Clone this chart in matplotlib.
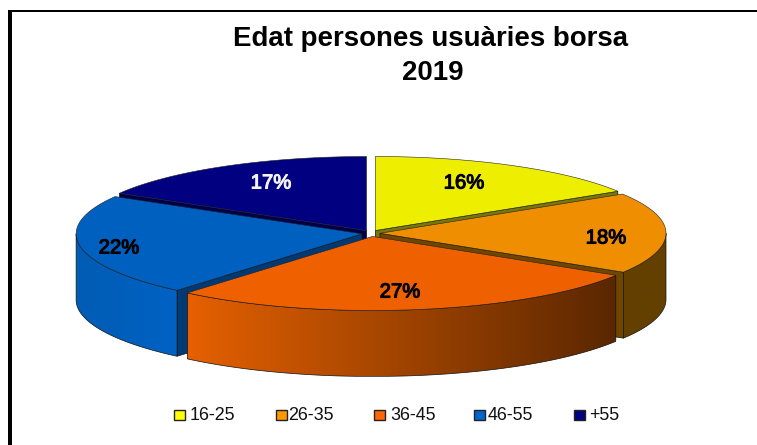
import numpy as np
import matplotlib
matplotlib.use("Agg")
import matplotlib.pyplot as plt
import matplotlib.patheffects as pe
from matplotlib.colors import LinearSegmentedColormap
from matplotlib.patches import Polygon, Rectangle

plt.rcParams['font.family'] = ['Liberation Sans', 'DejaVu Sans']

# Data
title_lines = ["Edat persones usuàries borsa", "2019"]
categories = ["16-25", "26-35", "36-45", "46-55", "+55"]
values = [16.1, 17.7, 27.4, 22.2, 16.6]

# Style
top_colors = ["#EEEE00", "#EE8E00", "#EE6000", "#0060C0", "#000080"]
legend_colors = ["#FFFF00", "#FF9900", "#FF6600", "#0066CC", "#000080"]
cut_colors = ["#77770A", "#6E4600", "#6E3000", "#003A75", "#00004A"]
side_left = ["#777700", "#634000", "#E66000", "#005CB4", "#000060"]
side_right = ["#777700", "#634000", "#5A2700", "#0062C4", "#000060"]
label_colors = ["black", "black", "black", "black", "#F2F2F2"]
label_xy = [(464, 183), (606, 238), (400, 292), (119, 248), (271, 183)]
title_xy = [(430.5, 39.5), (433, 73)]
legend_box_x = [174, 276, 374, 474, 574]
legend_text_x = [190, 288, 390, 488, 589]
CX, CY, RX, RY, DEPTH, EX, EY = 371, 233.3, 286, 74, 66, 9, 3.2

W, H = 757, 445
fig = plt.figure(figsize=(W / 100, H / 100), dpi=100, facecolor="white")
ax = fig.add_axes([0, 0, 1, 1])
ax.axis("off")


def rim(ax0, ay0, a, b, n=120):
    t = np.radians(np.linspace(a, b, n))
    return np.column_stack([ax0 + RX * np.sin(t), ay0 - RY * np.cos(t)])


edges = np.concatenate([[0], np.cumsum(values)]) / sum(values) * 360
slices = []
for i in range(len(values)):
    a, b = edges[i], edges[i + 1]
    m = np.radians((a + b) / 2)
    slices.append((i, a, b, CX + EX * np.sin(m), CY - EY * np.cos(m)))
# back to front
slices.sort(key=lambda s: -np.cos(np.radians((s[1] + s[2]) / 2)))

z = 2
for i, a, b, x0, y0 in slices:
    # radial cut faces turned to the viewer
    for ang, show in ((a, np.sin(np.radians(a)) < -1e-6), (b, np.sin(np.radians(b)) > 1e-6)):
        if show:
            p = rim(x0, y0, ang, ang, 1)[0]
            ax.add_patch(Polygon([(x0, y0), p, (p[0], p[1] + DEPTH), (x0, y0 + DEPTH)],
                                 closed=True, fc=cut_colors[i], ec="#111111", lw=0.5, zorder=z))
            z += 1
    # outer wall: the part of the rim in the front half
    lo, hi = max(a, 90), min(b, 270)
    if hi > lo:
        top = rim(x0, y0, lo, hi)
        bottom = top[::-1] + [0, DEPTH]
        wall = np.vstack([top, bottom])
        poly = Polygon(wall, closed=True, fc="none", ec="#111111", lw=0.5, zorder=z + 1)
        ax.add_patch(poly)
        cmap = LinearSegmentedColormap.from_list("g", [side_left[i], side_right[i]])
        im = ax.imshow(np.linspace(0, 1, 256)[None, :],
                       extent=[wall[:, 0].min(), wall[:, 0].max(), wall[:, 1].max(), wall[:, 1].min()],
                       cmap=cmap, aspect="auto", zorder=z, interpolation="bilinear")
        im.set_clip_path(poly)
        z += 2
    # top face
    ax.add_patch(Polygon(np.vstack([[(x0, y0)], rim(x0, y0, a, b)]), closed=True,
                         fc=top_colors[i], ec="#222222", lw=0.4, zorder=z))
    z += 1

for v, (lx, ly), c in zip(values, label_xy, label_colors):
    ax.text(lx, ly, f"{v:.0f}%", color=c, fontsize=14.6, ha="center", va="center", zorder=z,
            path_effects=[pe.withStroke(linewidth=0.8, foreground=c)])

for line, (tx, ty) in zip(title_lines, title_xy):
    ax.text(tx, ty, line, fontsize=19.9, fontweight="bold", ha="center", va="center",
            color="black", zorder=z)

for name, col, bx, tx in zip(categories, legend_colors, legend_box_x, legend_text_x):
    ax.add_patch(Rectangle((bx, 410), 11, 10, fc=col, ec="#222222", lw=1.0, zorder=z))
    ax.text(tx, 416, name, fontsize=12.9, ha="left", va="center", color="#111111", zorder=z)

# outer frame, open to the right and the bottom
ax.add_patch(Rectangle((8, 10), 4, H - 10, fc="black", ec="none", zorder=z))
ax.add_patch(Rectangle((8, 10), W - 8, 2, fc="black", ec="none", zorder=z))

ax.set_xlim(0, W)
ax.set_ylim(H, 0)
fig.savefig("out.png", dpi=100, facecolor="white")
